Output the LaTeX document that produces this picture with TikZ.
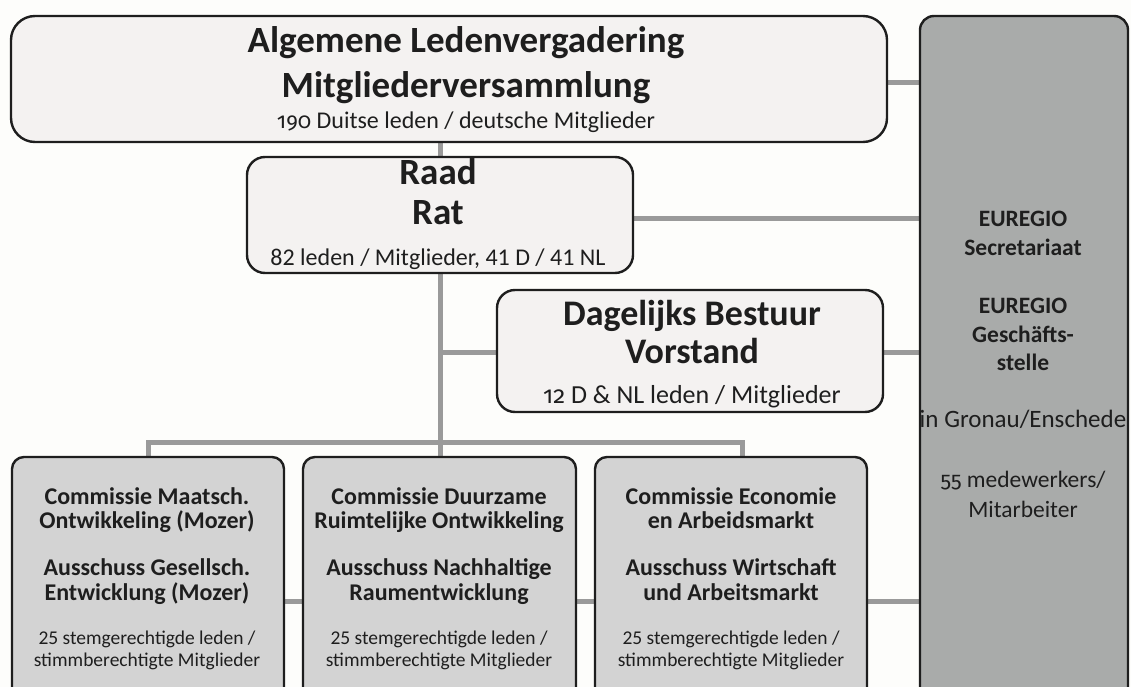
\documentclass[tikz,border=0pt]{standalone}
\usepackage{fontspec}
\setmainfont{Carlito}
\newfontfamily\oldnumfont{Fira Sans}[Numbers=OldStyle, Scale=0.92]
\definecolor{pagebg}{HTML}{FDFDFB}
\definecolor{lightfill}{HTML}{F4F2F1}
\definecolor{midfill}{HTML}{D3D3D3}
\definecolor{darkfill}{HTML}{A9ABAA}
\definecolor{connc}{HTML}{9A9A9A}
\definecolor{inkc}{HTML}{1E1E1E}
\pgfdeclarelayer{bglayer}
\pgfdeclarelayer{connlayer}
\pgfsetlayers{bglayer,connlayer,main}
\newcommand{\osn}[1]{{\oldnumfont #1}}
\tikzset{
  boxbase/.style={draw=inkc, line width=2.4pt, inner sep=0pt, outer sep=0pt},
  lightbox/.style={boxbase, fill=lightfill},
  midbox/.style={boxbase, fill=midfill, rounded corners=12pt},
  darkbox/.style={boxbase, fill=darkfill, rounded corners=14pt},
  conn/.style={draw=connc, line width=5pt},
  txt/.style={anchor=base, inner sep=0pt, text=inkc},
  bigtitle/.style={txt, font=\bfseries\fontsize{37}{44}\selectfont},
  dbtitle/.style={txt, font=\bfseries\fontsize{36}{43}\selectfont},
  subline/.style={txt, font=\fontsize{24}{29}\selectfont},
  sectitle/.style={txt, font=\bfseries\fontsize{23.5}{28}\selectfont},
  secline/.style={txt, font=\fontsize{23.5}{28}\selectfont},
  comtitle/.style={txt, font=\bfseries\fontsize{24}{29}\selectfont},
  comline/.style={txt, font=\fontsize{19.5}{23}\selectfont},
}
\begin{document}
\begin{tikzpicture}[x=1pt,y=-1pt]
\useasboundingbox (0,0) rectangle (1131,687);
\clip (0,0) rectangle (1131,687);
\begin{pgfonlayer}{bglayer}
  \fill[pagebg] (0,0) rectangle (1131,687);
\end{pgfonlayer}

% boxes
\node[lightbox, rounded corners=24pt, minimum width=876pt, minimum height=126pt] (alv) at (449,79) {};
\node[lightbox, rounded corners=18pt, minimum width=386pt, minimum height=116pt] (raad) at (440,215) {};
\node[lightbox, rounded corners=18pt, minimum width=386pt, minimum height=122pt] (db) at (690,351) {};
\node[darkbox, minimum width=208pt, minimum height=724pt] (sec) at (1024,378) {};
\node[midbox, minimum width=272pt, minimum height=283pt] (c1) at (148,598.5) {};
\node[midbox, minimum width=273pt, minimum height=283pt] (c2) at (439.5,598.5) {};
\node[midbox, minimum width=272pt, minimum height=283pt] (c3) at (731,598.5) {};

% helper coordinates for connector heights
\coordinate (yA) at (0,83);
\coordinate (yR) at (0,218);
\coordinate (yD) at (0,352);
\coordinate (yB) at (742,442);
\coordinate (yC) at (0,601);

\begin{pgfonlayer}{connlayer}
  \draw[conn] (alv.south -| raad.north) -- (raad.north);
  \draw[conn] (alv.east |- yA) -- (sec.west |- yA);
  \draw[conn] (raad.east |- yR) -- (sec.west |- yR);
  \draw[conn] (raad.south) -- (raad.south |- c2.north);
  \draw[conn] (raad.south |- yD) -- (db.west |- yD);
  \draw[conn] (db.east |- yD) -- (sec.west |- yD);
  \draw[conn] (c1.north) -- (c1.north |- yB) -- (yB) -- (yB |- c3.north);
  \draw[conn] (c1.east |- yC) -- (c2.west |- yC);
  \draw[conn] (c2.east |- yC) -- (c3.west |- yC);
  \draw[conn] (c3.east |- yC) -- (sec.west |- yC);
\end{pgfonlayer}

% texts: general assembly
\node[bigtitle] (alv1) at (466,53) {Algemene Ledenvergadering};
\node[bigtitle] (alv2) at (466,98) {Mitgliederversammlung};
\node[subline] (alv3) at (466,129) {\osn{190} Duitse leden / deutsche Mitglieder};
% council
\node[bigtitle] (raad1) at (438,185) {Raad};
\node[bigtitle] (raad2) at (438,224) {Rat};
\node[subline] (raad3) at (438,265) {82 leden / Mitglieder, 41 D / 41 NL};
% board
\node[dbtitle] (db1) at (692,325) {Dagelijks Bestuur};
\node[dbtitle] (db2) at (692,363) {Vorstand};
\node[subline, font=\fontsize{26}{31}\selectfont] (db3) at (692,403) {\osn{12} D \& NL leden / Mitglieder};
% secretariat
\node[sectitle] (s1) at (1023,226) {EUREGIO};
\node[sectitle] (s2) at (1023,255) {Secretariaat};
\node[sectitle] (s3) at (1023,313) {EUREGIO};
\node[sectitle] (s4) at (1023,342) {Geschäfts-};
\node[sectitle] (s5) at (1023,370) {stelle};
\node[secline, font=\fontsize{25}{30}\selectfont] (s6) at (1023,427) {in Gronau/Enschede};
\node[secline] (s7) at (1023,487) {\osn{55} medewerkers/};
\node[secline] (s8) at (1023,517) {Mitarbeiter};
% committees
\node[comtitle] (c1a) at (147,504) {Commissie Maatsch.};
\node[comtitle] (c1b) at (147,528) {Ontwikkeling (Mozer)};
\node[comtitle] (c1c) at (147,575) {Ausschuss Gesellsch.};
\node[comtitle] (c1d) at (147,600) {Entwicklung (Mozer)};
\node[comline] (c1e) at (147,644) {25 stemgerechtigde leden /};
\node[comline] (c1f) at (147,666) {stimmberechtigte Mitglieder};

\node[comtitle] (c2a) at (439,504) {Commissie Duurzame};
\node[comtitle] (c2b) at (439,528) {Ruimtelijke Ontwikkeling};
\node[comtitle] (c2c) at (439,575) {Ausschuss Nachhaltige};
\node[comtitle] (c2d) at (439,600) {Raumentwicklung};
\node[comline] (c2e) at (439,644) {25 stemgerechtigde leden /};
\node[comline] (c2f) at (439,666) {stimmberechtigte Mitglieder};

\node[comtitle] (c3a) at (731,504) {Commissie Economie};
\node[comtitle] (c3b) at (731,528) {en Arbeidsmarkt};
\node[comtitle] (c3c) at (731,575) {Ausschuss Wirtschaft};
\node[comtitle] (c3d) at (731,600) {und Arbeitsmarkt};
\node[comline] (c3e) at (731,644) {25 stemgerechtigde leden /};
\node[comline] (c3f) at (731,666) {stimmberechtigte Mitglieder};
\end{tikzpicture}
\end{document}
